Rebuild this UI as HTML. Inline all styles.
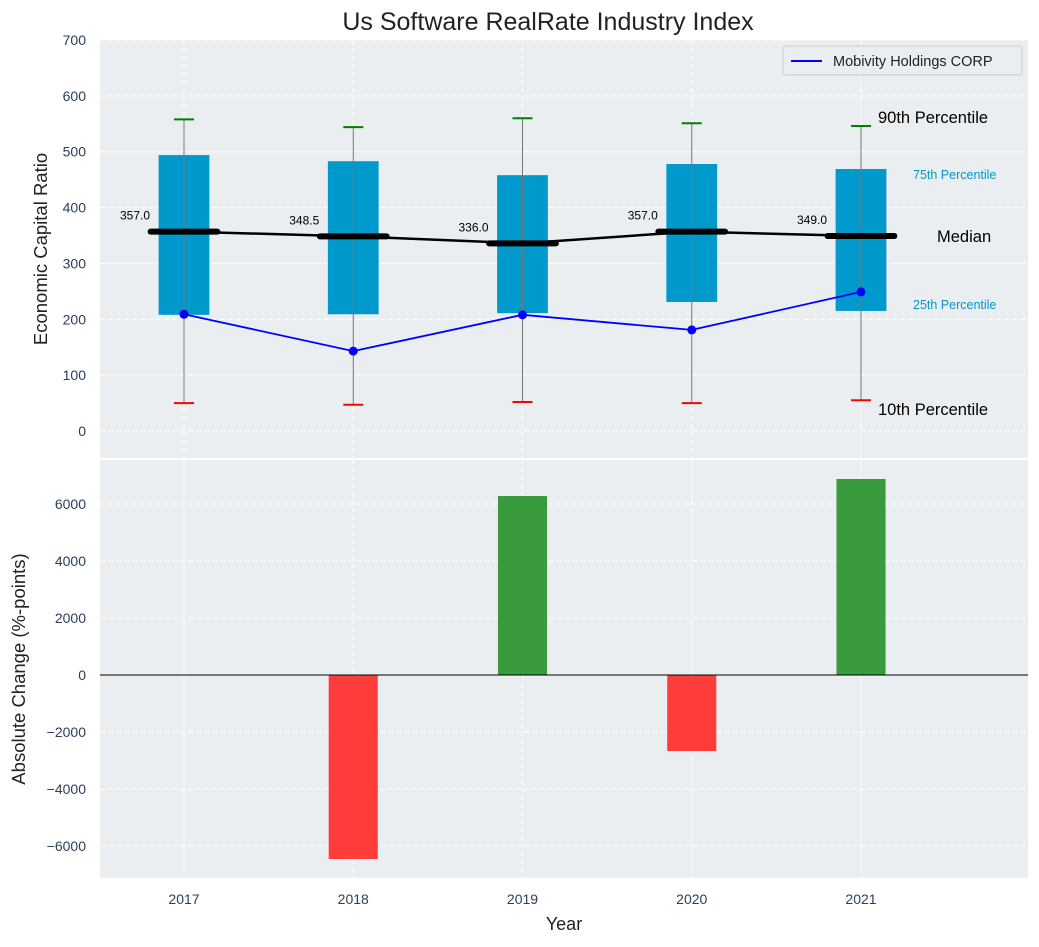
<!DOCTYPE html>
<html><head><meta charset="utf-8"><style>
body{margin:0;background:#fff;}
svg text{font-family:"Liberation Sans","DejaVu Sans",sans-serif;}
</style></head><body>
<svg id="c" width="1039" height="942" xmlns="http://www.w3.org/2000/svg"></svg>
<script>
const years=[2017,2018,2019,2020,2021];
const q10=[50,47,52,50,55];
const q25=[208,209,211,231,215];
const medians=[357.0,348.5,336.0,357.0,349.0];
const q75=[494,483,458,478,469];
const q90=[558,544,560,551,546];
const company=[209,143,208,181,249];
const changes=[0,-6456,6280,-2667,6877];
const topTicks=[0,100,200,300,400,500,600,700];
const botTicks=[-6000,-4000,-2000,0,2000,4000,6000];

const svg=document.getElementById('c');
const NS='http://www.w3.org/2000/svg';
function el(tag,attrs,parent){const e=document.createElementNS(NS,tag);for(const k in attrs)e.setAttribute(k,attrs[k]);(parent||svg).appendChild(e);return e;}
const L=100,R=1028;
const xs=v=>184+(v-2017)*169.25;
const T1=40,B1=458, T2=460,B2=878;
const y1=v=>431-v*(431-40)/700;
const y2=v=>675-v*(171/6000);

let r=el('rect',{x:L,y:T1,width:R-L,height:B1-T1,fill:'#eaeef0'});

r=el('rect',{x:L,y:T2,width:R-L,height:B2-T2,fill:'#eaeef0'});


topTicks.forEach(t=>{const y=y1(t);
 el('line',{x1:L,x2:R,y1:y,y2:y,stroke:'#fff','stroke-dasharray':'5,3','stroke-width':1});
 const tx=el('text',{x:86,y:y+5,'text-anchor':'end','font-size':14,fill:'#2a3f5a'});tx.textContent=t;
 });
botTicks.forEach(t=>{const y=y2(t);
 el('line',{x1:L,x2:R,y1:y,y2:y,stroke:'#fff','stroke-dasharray':'5,3','stroke-width':1});
 const tx=el('text',{x:86,y:y+5,'text-anchor':'end','font-size':14,fill:'#2a3f5a'});tx.textContent=t.toString().replace('-','\u2212');
 });
years.forEach(yr=>{const x=xs(yr);
 el('line',{x1:x,x2:x,y1:T1,y2:B1,stroke:'#fff','stroke-dasharray':'5,3'});
 el('line',{x1:x,x2:x,y1:T2,y2:B2,stroke:'#fff','stroke-dasharray':'5,3'});
 const tx=el('text',{x:x,y:904,'text-anchor':'middle','font-size':14,fill:'#2a3f5a'});tx.textContent=yr;
 });

const bw=0.3, mw=0.43;
years.forEach((yr,i)=>{const x=xs(yr);
 const b=el('rect',{x:xs(yr-bw/2),y:y1(q75[i]),width:xs(yr+bw/2)-xs(yr-bw/2),height:y1(q25[i])-y1(q75[i]),fill:'#0099cc'});
 
 el('line',{x1:x,x2:x,y1:y1(q90[i]),y2:y1(q10[i]),stroke:'#777','stroke-width':1});
 el('line',{x1:x-10,x2:x+10,y1:y1(q90[i]),y2:y1(q90[i]),stroke:'green','stroke-width':2});
 el('line',{x1:x-10,x2:x+10,y1:y1(q10[i]),y2:y1(q10[i]),stroke:'red','stroke-width':2});
});
let mp=years.map((yr,i)=>xs(yr)+','+y1(medians[i])).join(' ');
let ml=el('polyline',{points:mp,fill:'none',stroke:'#000','stroke-width':2.5});

years.forEach((yr,i)=>{
 const m=el('line',{x1:xs(yr-mw/2)+3,x2:xs(yr+mw/2)-3,y1:y1(medians[i]),y2:y1(medians[i]),stroke:'#000','stroke-width':6,'stroke-linecap':'round'});
 
 const t=el('text',{x:xs(yr)-49,y:y1(medians[i])-12,'text-anchor':'middle','font-size':12,fill:'#000'});t.textContent=medians[i].toFixed(1);
 
});
let cp=years.map((yr,i)=>xs(yr)+','+y1(company[i])).join(' ');
let cl=el('polyline',{points:cp,fill:'none',stroke:'blue','stroke-width':1.8});

years.forEach((yr,i)=>{const d=el('circle',{cx:xs(yr),cy:y1(company[i]),r:4.5,fill:'blue'});
 });

function txt(s,x,y,sz,fill,anchor,name){const t=el('text',{x:x,y:y,'font-size':sz,fill:fill,'text-anchor':anchor||'start'});t.textContent=s;
 return t;}
txt('90th Percentile',878,123,16.5,'#000','start','label-90th');
txt('75th Percentile',913,179,12.5,'#0099cc','start','label-75th');
txt('Median',937,242,16.5,'#000','start','label-median');
txt('25th Percentile',913,309,12.5,'#0099cc','start','label-25th');
txt('10th Percentile',878,415,16.5,'#000','start','label-10th');

const lg=el('g',{});
el('rect',{x:783,y:46,width:239,height:29,rx:3,fill:'#eaeef0',stroke:'#ccc'},lg);
el('line',{x1:791,x2:822,y1:61,y2:61,stroke:'blue','stroke-width':2},lg);
const lt=el('text',{x:833,y:66,'font-size':14.5,fill:'#222'},lg);lt.textContent='Mobivity Holdings CORP';

years.forEach((yr,i)=>{if(changes[i]===0)return;
 const y=Math.min(y2(0),y2(changes[i]));const h=Math.abs(y2(changes[i])-y2(0));
 const b=el('rect',{x:xs(yr-0.145),y:y,width:xs(yr+0.145)-xs(yr-0.145),height:h,fill:changes[i]>0?'#3a9b3e':'#ff3c3c'});
 });
el('line',{x1:L,x2:R,y1:y2(0),y2:y2(0),stroke:'#000','stroke-width':1});

txt('Us Software RealRate Industry Index',548,30,25,'#222','middle','chart-title');
txt('Year',564,930,18,'#222','middle','x-axis-title');
let yt=txt('Economic Capital Ratio',0,0,18.5,'#222','middle','y-axis-title-top');yt.setAttribute('transform','translate(47,249) rotate(-90)');
yt=txt('Absolute Change (%-points)',0,0,18.5,'#222','middle','y-axis-title-bottom');yt.setAttribute('transform','translate(25,669) rotate(-90)');
</script>
</body></html>
